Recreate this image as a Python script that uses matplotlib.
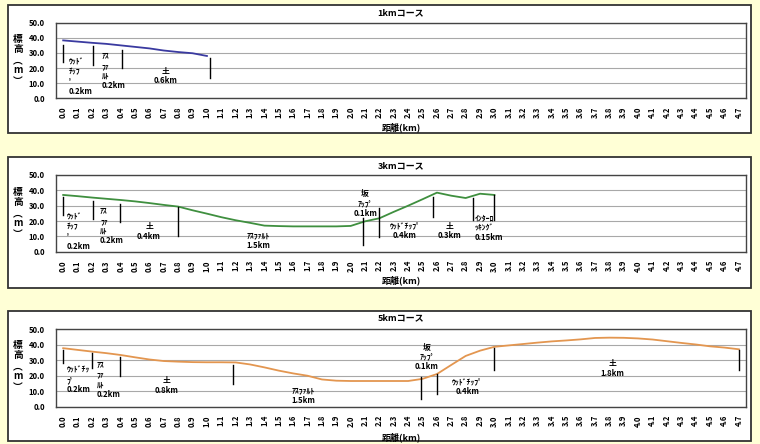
import matplotlib
matplotlib.use("Agg")
import matplotlib.pyplot as plt
from matplotlib.patches import Rectangle

plt.rcParams['font.family'] = ['Noto Sans CJK JP', 'DejaVu Sans']

# ---------------- data ----------------
x_labels = ["0.0", "0.1", "0.2", "0.3", "0.4", "0.5", "0.6", "0.7", "0.8", "0.9",
            "1.0", "1.1", "1.2", "1.3", "1.4", "1.5", "1.6", "1.7", "1.8", "1.9",
            "2.0", "2.1", "2.2", "2.3", "2.4", "2.5", "2.6", "2.7", "2.8", "2.9",
            "3.0", "3.1", "3.2", "3.3", "3.4", "3.5", "3.6", "3.7", "3.8", "3.9",
            "4.0", "4.1", "4.2", "4.3", "4.4", "4.5", "4.6", "4.7"]
y_ticks = [0, 10, 20, 30, 40, 50]

titles = ["1kmコース", "3kmコース", "5kmコース"]
line_colors = ["#3a3aa0", "#3f8f3f", "#e39650"]

elev_1km = [38.3, 37.5, 36.7, 36.0, 35.0, 34.0, 33.0, 31.6, 30.6, 29.8, 28.0]
elev_3km = [37.0, 36.2, 35.3, 34.5, 33.7, 32.8, 31.7, 30.5, 29.4, 27.0,
            24.8, 22.5, 20.5, 18.8, 17.0, 16.7, 16.5, 16.5, 16.5, 16.5,
            16.8, 19.8, 21.8, 26.0, 30.0, 34.2, 38.5, 36.5, 35.0, 37.8, 37.0]
elev_5km = [37.8, 36.7, 35.6, 34.6, 33.4, 31.9, 30.5, 29.5, 29.1, 28.8,
            28.7, 28.7, 28.6, 27.3, 25.4, 23.3, 21.5, 20.0, 17.6, 16.8,
            16.6, 16.6, 16.6, 16.6, 16.6, 18.0, 21.1, 27.0, 32.8, 36.2,
            38.7, 39.6, 40.5, 41.4, 42.2, 42.8, 43.5, 44.4, 44.6, 44.5,
            44.1, 43.4, 42.3, 41.2, 40.2, 39.0, 38.2, 37.1]
series = [elev_1km, elev_3km, elev_5km]

# section boundary markers: position (category index), top, bottom
bounds_1km = [(0.0, 35.0, 24.3), (2.07, 34.4, 22.2), (4.09, 32.2, 20.0), (10.2, 26.7, 13.7)]
bounds_3km = [(0.0, 35.9, 23.9), (2.05, 33.3, 21.3), (3.95, 31.1, 19.6), (7.97, 29.0, 10.2),
              (20.88, 21.8, 4.4), (22.0, 28.3, 9.8), (25.75, 35.9, 22.8), (28.5, 34.8, 20.7),
              (29.97, 37.0, 20.7)]
bounds_5km = [(0.0, 36.7, 28.0), (1.98, 34.5, 24.8), (3.95, 32.3, 19.8), (11.83, 27.0, 14.7),
              (24.87, 19.0, 4.8), (25.98, 21.1, 8.2), (30.0, 37.7, 23.7), (47.0, 36.7, 23.7)]
bounds = [bounds_1km, bounds_3km, bounds_5km]

# section labels: text, x (category index), top y, horizontal alignment
labels_1km = [("ｳｯﾄﾞ\nﾁｯﾌ\nﾟ\n0.2km", 0.4, 27.0, "left"),
              ("ｱｽ\nﾌｧ\nﾙﾄ\n0.2km", 2.68, 30.6, "left"),
              ("土\n0.6km", 7.15, 21.0, "center")]
labels_3km = [("ｳｯﾄﾞ\nﾁｯﾌ\nﾟ\n0.2km", 0.24, 25.4, "left"),
              ("ｱｽ\nﾌｧ\nﾙﾄ\n0.2km", 2.56, 29.1, "left"),
              ("土\n0.4km", 5.97, 19.4, "center"),
              ("ｱｽﾌｧﾙﾄ\n1.5km", 13.55, 13.5, "center"),
              ("坂\nｱｯﾌﾟ\n0.1km", 21.0, 40.7, "center"),
              ("ｳｯﾄﾞﾁｯﾌﾟ\n0.4km", 23.78, 19.6, "center"),
              ("土\n0.3km", 26.9, 19.6, "center"),
              ("ｲﾝﾀｰﾛ\nｯｷﾝｸﾞ\n0.15km", 28.65, 24.8, "left")]
labels_5km = [("ｳｯﾄﾞﾁｯ\nﾌﾟ\n0.2km", 0.24, 26.3, "left"),
              ("ｱｽ\nﾌｧ\nﾙﾄ\n0.2km", 2.33, 29.6, "left"),
              ("土\n0.8km", 7.2, 19.8, "center"),
              ("ｱｽﾌｧﾙﾄ\n1.5km", 16.7, 13.4, "center"),
              ("坂\nｱｯﾌﾟ\n0.1km", 25.3, 41.4, "center"),
              ("ｳｯﾄﾞﾁｯﾌﾟ\n0.4km", 28.1, 19.2, "center"),
              ("土\n1.8km", 38.2, 30.6, "center")]
labels = [labels_1km, labels_3km, labels_5km]

# ---------------- layout (pixels) ----------------
W, H = 760, 444
frames = [(8, 5, 751, 133), (8, 157, 751, 288), (8, 311, 751, 441)]
plots = [(56, 22.7, 746, 98.3), (56, 175, 746, 251.7), (56, 329.3, 746, 406.7)]
title_y = [13, 166, 318]
xlabel_y = [127, 280, 437]
ylabel_y = [34, 187, 340]

fig = plt.figure(figsize=(W / 100, H / 100), dpi=100)
fig.patch.set_facecolor("#ffffd6")

for k in range(3):
    fx0, fy0, fx1, fy1 = frames[k]
    fig.patches.append(Rectangle((fx0 / W, 1 - fy1 / H), (fx1 - fx0) / W, (fy1 - fy0) / H,
                                 transform=fig.transFigure, facecolor="white",
                                 edgecolor="#333333", linewidth=1.3, zorder=-5))
    px0, py0, px1, py1 = plots[k]
    ax = fig.add_axes([px0 / W, 1 - py1 / H, (px1 - px0) / W, (py1 - py0) / H])
    ax.set_zorder(2)
    ax.set_facecolor("white")
    ax.set_xlim(-0.5, len(x_labels) - 0.5)
    ax.set_ylim(0, 50)
    ax.set_yticks(y_ticks)
    ax.set_yticklabels([f"{v:.1f}" for v in y_ticks], fontsize=5.5, fontweight="bold")
    ax.set_xticks(range(len(x_labels)))
    ax.set_xticklabels(x_labels, rotation=90, fontsize=5.5, fontweight="bold")
    ax.tick_params(axis="y", length=0, pad=8)
    ax.tick_params(axis="x", length=0, pad=6)
    ax.yaxis.grid(True, color="#a8a8a8", linewidth=0.8)
    ax.set_axisbelow(True)
    for s in ax.spines.values():
        s.set_color("#444444")
        s.set_linewidth(1.0)

    vals = series[k]
    ax.plot(range(len(vals)), vals, color=line_colors[k], linewidth=1.3, zorder=3)
    for (bx, bt, bb) in bounds[k]:
        ax.plot([bx, bx], [bb, bt], color="black", linewidth=1.0, zorder=4)
    for (txt, tx, ty, ha) in labels[k]:
        ax.text(tx, ty, txt, ha=ha, va="top", multialignment=ha, fontsize=5.6,
                fontweight="bold", linespacing=1.1, zorder=5)

    cx = (px0 + px1) / 2 / W
    fig.text(cx, 1 - title_y[k] / H, titles[k], ha="center", va="center",
             fontsize=6.5, fontweight="bold")
    fig.text(cx, 1 - xlabel_y[k] / H, "距離(km)", ha="center", va="center",
             fontsize=6.5, fontweight="bold")
    fig.text(18 / W, 1 - ylabel_y[k] / H, "標\n高\n︵\nm\n︶", ha="center", va="top",
             fontsize=7, fontweight="bold", linespacing=1.05)

fig.savefig("out.png", dpi=100, facecolor=fig.get_facecolor())
